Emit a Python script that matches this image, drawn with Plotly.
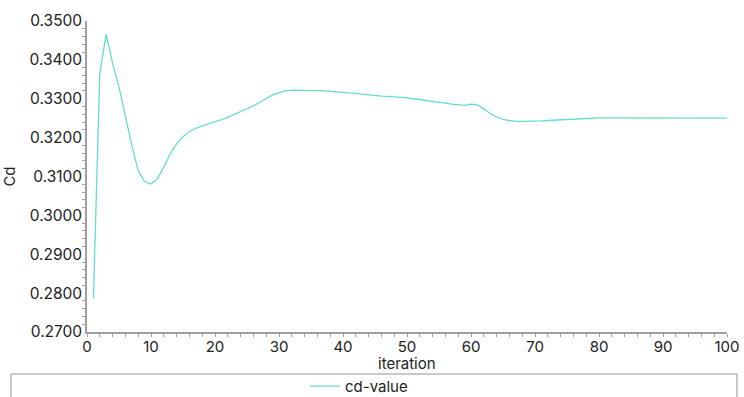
import plotly.graph_objects as go

iterations = list(range(1, 101))
cd_values = [
    0.2787, 0.3365, 0.3466, 0.3391, 0.3330, 0.3253, 0.3180, 0.3115, 0.3087, 0.3081,
    0.3094, 0.3124, 0.3158, 0.3184, 0.3202, 0.3215, 0.3224, 0.3230, 0.3235, 0.3240,
    0.3246, 0.3252, 0.3259, 0.3266, 0.3274, 0.3282, 0.3291, 0.3301, 0.3310, 0.3316,
    0.3320, 0.3322, 0.3322, 0.3322, 0.3321, 0.3321, 0.3320, 0.3319, 0.3318, 0.3317,
    0.3316, 0.3314, 0.3312, 0.3310, 0.3308, 0.3307, 0.3306, 0.3305, 0.3304, 0.3302,
    0.3300, 0.3298, 0.3296, 0.3293, 0.3291, 0.3289, 0.3286, 0.3284, 0.3283, 0.3286,
    0.3284, 0.3274, 0.3262, 0.3253, 0.3247, 0.3244, 0.3242, 0.3242, 0.3242, 0.3243,
    0.3243, 0.3244, 0.3245, 0.3246, 0.3247, 0.3248, 0.3249, 0.3250, 0.3250, 0.3251,
    0.3251, 0.3251, 0.3251, 0.3251, 0.3251, 0.3250, 0.3250, 0.3250, 0.3250, 0.3250,
    0.3250, 0.3250, 0.3250, 0.3250, 0.3250, 0.3250, 0.3250, 0.3250, 0.3250, 0.3250,
]
series_name = "cd-value"
x_title = "iteration"
y_title = "Cd"

font_family = "Inter, 'Open Sans', sans-serif"
line_color = "#66ddc9"
axis_color = "#a0a0a0"

fig = go.Figure()
fig.add_trace(go.Scatter(
    x=iterations, y=cd_values, mode="lines", name=series_name,
    line=dict(color=line_color, width=1.3),
))

fig.update_layout(
    width=744, height=397,
    margin=dict(l=87, r=17, t=21, b=65, autoexpand=False),
    paper_bgcolor="white", plot_bgcolor="white",
    font=dict(family=font_family, size=15, color="#222222"),
    showlegend=True,
    legend=dict(
        orientation="h", xref="container", yref="container",
        x=0.41, xanchor="left", y=0.027, yanchor="middle",
        bgcolor="rgba(0,0,0,0)", font=dict(size=15, color="#222222"),
        itemwidth=30,
    ),
    xaxis=dict(
        range=[0, 100], tickvals=[0, 10, 20, 30, 40, 50, 60, 70, 80, 90, 100],
        automargin=False,
        showgrid=False, zeroline=False, showline=True, linecolor=axis_color, linewidth=1.5,
        ticks="",
        minor=dict(dtick=2, ticks="outside", ticklen=3, tickcolor=axis_color),
        tickfont=dict(size=15),
    ),
    yaxis=dict(
        range=[0.27, 0.35], dtick=0.01, tickformat=".4f",
        automargin=False,
        showgrid=False, zeroline=False, showline=True, linecolor=axis_color, linewidth=1.5,
        ticks="",
        minor=dict(dtick=0.002, ticks="outside", ticklen=3, tickcolor=axis_color),
        title=dict(text=y_title, font=dict(size=15)),
        tickfont=dict(size=15.5),
    ),
    annotations=[dict(
        text=x_title, xref="paper", yref="paper", x=0.5, y=-0.101,
        xanchor="center", yanchor="middle", showarrow=False,
        font=dict(size=15, color="#222222"),
    )],
    shapes=[dict(
        type="rect", xref="paper", yref="paper",
        x0=-0.11875, x1=1.0156, y0=-0.30, y1=-0.135,
        line=dict(color="#b8b8b8", width=1.5), fillcolor="rgba(0,0,0,0)",
        layer="below",
    )],
)

fig.write_html("out.html")
